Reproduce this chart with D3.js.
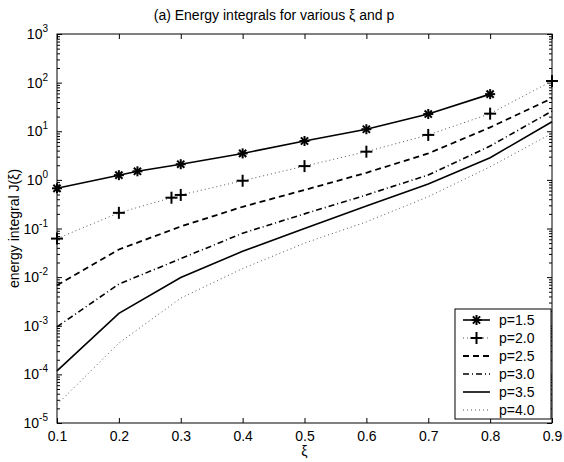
<!DOCTYPE html>
<html>
<head>
<meta charset="utf-8">
<script src="https://cdn.jsdelivr.net/npm/d3@7"></script>
<style>
  body { margin: 0; background: #fff; }
  svg { font-family: "Liberation Sans", Arial, sans-serif; }
  .axis path, .axis line { stroke: #000; }
  .axis text { font-size: 14px; fill: #000; }
</style>
</head>
<body>
<div id="chart"></div>
<script>
"use strict";

// xi values shared by most curves
let xi = [0.1, 0.2, 0.3, 0.4, 0.5, 0.6, 0.7, 0.8, 0.9];

// p = 1.5 and p = 2.0 have their own sample points (markers)
let xi15 = [0.1, 0.2, 0.23, 0.3, 0.4, 0.5, 0.6, 0.7, 0.8];
let j15 = [0.67, 1.25, 1.5, 2.1, 3.5, 6.3, 11, 22.6, 58];

let xi20 = [0.1, 0.2, 0.285, 0.3, 0.4, 0.5, 0.6, 0.7, 0.8, 0.9];
let j20 = [0.062, 0.21, 0.43, 0.49, 0.96, 1.92, 3.8, 8.4, 23, 108];

let j25 = [0.0068, 0.037, 0.11, 0.28, 0.62, 1.4, 3.5, 12, 47.5];
let j30 = [0.00095, 0.0072, 0.024, 0.08, 0.2, 0.49, 1.26, 4.96, 26];
let j35 = [0.000118, 0.0018, 0.0098, 0.034, 0.1, 0.29, 0.82, 2.85, 15.7];
let j40 = [0.000024, 0.00044, 0.0037, 0.015, 0.05, 0.137, 0.45, 1.86, 9.05];

let xTicks = [0.1, 0.2, 0.3, 0.4, 0.5, 0.6, 0.7, 0.8, 0.9];
let yExponents = [-5, -4, -3, -2, -1, 0, 1, 2, 3];

let seriesNames = ["p=1.5", "p=2.0", "p=2.5", "p=3.0", "p=3.5", "p=4.0"];

let width = 564, height = 462;
let margin = { left: 57, right: 12, top: 34, bottom: 39 };

let svg = d3.select("#chart").append("svg")
  .attr("width", width)
  .attr("height", height);

let x = d3.scaleLinear()
  .domain([0.1, 0.9])
  .range([margin.left, width - margin.right]);

let y = d3.scaleLog()
  .domain([1e-5, 1e3])
  .range([height - margin.bottom, margin.top]);

// line styles, roughly matlab's
let styles = [
  { dash: null, width: 1.6, color: "#000", marker: "star" },
  { dash: "1,3", width: 1, color: "#555", marker: "plus" },
  { dash: "6,4", width: 1.8, color: "#000", marker: null },
  { dash: "6,3,1,3", width: 1.6, color: "#000", marker: null },
  { dash: null, width: 1.6, color: "#000", marker: null },
  { dash: "1,3", width: 1, color: "#555", marker: null }
];

let series = [
  { xs: xi15, ys: j15 },
  { xs: xi20, ys: j20 },
  { xs: xi, ys: j25 },
  { xs: xi, ys: j30 },
  { xs: xi, ys: j35 },
  { xs: xi, ys: j40 }
];

// frame
svg.append("rect")
  .attr("x", margin.left)
  .attr("y", margin.top)
  .attr("width", width - margin.left - margin.right)
  .attr("height", height - margin.top - margin.bottom)
  .attr("fill", "#fff")
  .attr("stroke", "#000")
  .attr("stroke-width", 1);

// minor ticks on the log axis
let minorTicks = [];
for (let e = -5; e < 3; e++) {
  for (let k = 2; k <= 9; k++) minorTicks.push(k * Math.pow(10, e));
}
let majorTicks = yExponents.map(e => Math.pow(10, e));

function drawAxis(axis, tx, ty) {
  let g = svg.append("g")
    .attr("class", "axis")
    .attr("transform", "translate(" + tx + "," + ty + ")")
    .call(axis);
  g.select(".domain").remove();
  return g;
}

// bottom + top x axes, ticks pointing in
drawAxis(d3.axisBottom(x).tickValues(xTicks).tickSize(-5).tickPadding(8)
  .tickFormat(d3.format(".1f")), 0, height - margin.bottom);
drawAxis(d3.axisTop(x).tickValues(xTicks).tickSize(-5).tickFormat(""), 0, margin.top);

// left + right y axes
drawAxis(d3.axisLeft(y).tickValues(majorTicks).tickSize(-5).tickFormat(""), margin.left, 0);
drawAxis(d3.axisLeft(y).tickValues(minorTicks).tickSize(-3).tickFormat(""), margin.left, 0);
drawAxis(d3.axisRight(y).tickValues(majorTicks).tickSize(-5).tickFormat(""), width - margin.right, 0);
drawAxis(d3.axisRight(y).tickValues(minorTicks).tickSize(-3).tickFormat(""), width - margin.right, 0);

// y tick labels as 10^n
let yLabels = svg.append("g").attr("class", "ylabels");
yExponents.forEach(e => {
  let t = yLabels.append("text")
    .attr("x", margin.left - 9)
    .attr("y", y(Math.pow(10, e)) + 5)
    .attr("text-anchor", "end")
    .style("font-size", "14px");
  t.append("tspan").text("10");
  t.append("tspan")
    .attr("dy", -7)
    .style("font-size", "10px")
    .text(e);
});

// curves
let line = d3.line();
let plot = svg.append("g");

series.forEach((s, i) => {
  let st = styles[i];
  let pts = s.xs.map((v, k) => [x(v), y(s.ys[k])]);
  plot.append("path")
    .attr("d", line(pts))
    .attr("fill", "none")
    .attr("stroke", st.color)
    .attr("stroke-width", st.width)
    .attr("stroke-dasharray", st.dash);
  if (st.marker) {
    pts.forEach(p => drawMarker(plot, st.marker, p[0], p[1]));
  }
});

function drawMarker(g, type, cx, cy) {
  let r = type === "star" ? 5 : 6;
  let segs = [[-r, 0, r, 0], [0, -r, 0, r]];
  if (type === "star") {
    let d = r * 0.72;
    segs.push([-d, -d, d, d], [-d, d, d, -d]);
  }
  segs.forEach(sg => {
    g.append("line")
      .attr("x1", cx + sg[0]).attr("y1", cy + sg[1])
      .attr("x2", cx + sg[2]).attr("y2", cy + sg[3])
      .attr("stroke", "#000")
      .attr("stroke-width", 2);
  });
}

// title and axis labels
svg.append("text")
  .attr("x", 274)
  .attr("y", 20)
  .attr("text-anchor", "middle")
  .style("font-size", "14px")
  .text("(a) Energy integrals for various ξ and p");

svg.append("text")
  .attr("x", (margin.left + width - margin.right) / 2)
  .attr("y", 456)
  .attr("text-anchor", "middle")
  .style("font-size", "14px")
  .text("ξ");

svg.append("text")
  .attr("transform", "translate(19," + ((margin.top + height - margin.bottom) / 2) + ") rotate(-90)")
  .attr("text-anchor", "middle")
  .style("font-size", "14px")
  .text("energy integral J(ξ)");

// legend
let legend = svg.append("g").attr("transform", "translate(455,309)");
legend.append("rect")
  .attr("width", 96)
  .attr("height", 110)
  .attr("fill", "#fff")
  .attr("stroke", "#000");

seriesNames.forEach((name, i) => {
  let st = styles[i];
  let ly = 11 + i * 18;
  legend.append("line")
    .attr("x1", 8).attr("x2", 35)
    .attr("y1", ly).attr("y2", ly)
    .attr("stroke", st.color)
    .attr("stroke-width", st.width)
    .attr("stroke-dasharray", st.dash);
  if (st.marker) drawMarker(legend, st.marker, 21.5, ly);
  legend.append("text")
    .attr("x", 44)
    .attr("y", ly + 5)
    .style("font-size", "14px")
    .text(name);
});
</script>
</body>
</html>
